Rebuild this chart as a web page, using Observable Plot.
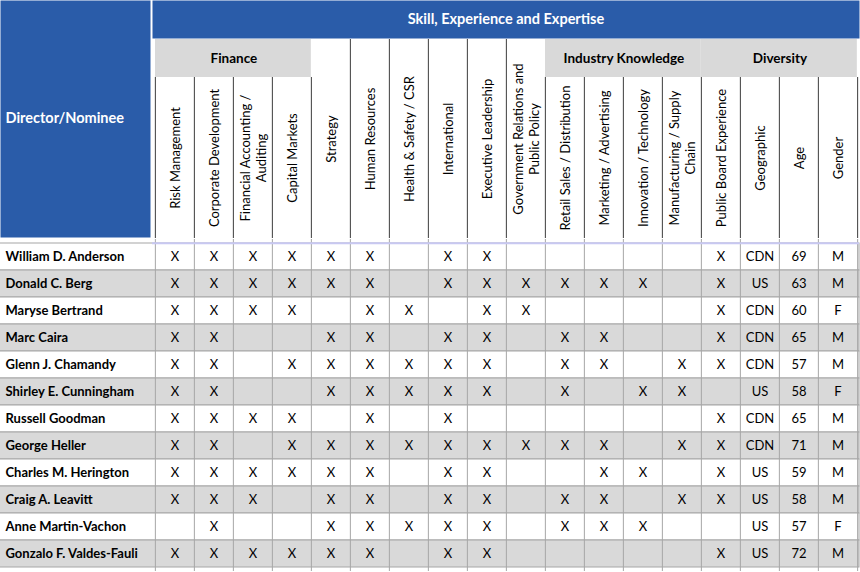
<!DOCTYPE html>
<html>
<head>
<meta charset="utf-8">
<script src="https://cdn.jsdelivr.net/npm/d3@7"></script>
<script src="https://cdn.jsdelivr.net/npm/@observablehq/plot@0.6"></script>
<style>
  html, body { margin: 0; padding: 0; background: #ffffff; }
  #chart svg { display: block; }
</style>
</head>
<body>
<div id="chart"></div>
<script>
// ---------------- DATA ----------------
const headerTitle = "Skill, Experience and Expertise";
const rowHeader = "Director/Nominee";

const directors = [
  "William D. Anderson", "Donald C. Berg", "Maryse Bertrand", "Marc Caira",
  "Glenn J. Chamandy", "Shirley E. Cunningham", "Russell Goodman", "George Heller",
  "Charles M. Herington", "Craig A. Leavitt", "Anne Martin-Vachon", "Gonzalo F. Valdes-Fauli"
];

const skills = [
  "Risk Management", "Corporate Development", "Financial Accounting / Auditing", "Capital Markets",
  "Strategy", "Human Resources", "Health & Safety / CSR", "International", "Executive Leadership",
  "Government Relations and Public Policy", "Retail Sales / Distribution", "Marketing / Advertising",
  "Innovation / Technology", "Manufacturing / Supply Chain", "Public Board Experience"
];

// tick labels as printed (with their line breaks)
const skillLabels = [
  "Risk Management", "Corporate Development", "Financial Accounting /\nAuditing", "Capital Markets",
  "Strategy", "Human Resources", "Health & Safety / CSR", "International", "Executive Leadership",
  "Government Relations and\nPublic Policy", "Retail Sales / Distribution", "Marketing / Advertising",
  "Innovation / Technology", "Manufacturing / Supply\nChain", "Public Board Experience"
];

const diversityColumns = ["Geographic", "Age", "Gender"];

const groupNames = ["Finance", "Industry Knowledge", "Diversity"];
const groupMembers = [
  ["Risk Management", "Corporate Development", "Financial Accounting / Auditing", "Capital Markets"],
  ["Retail Sales / Distribution", "Marketing / Advertising", "Innovation / Technology", "Manufacturing / Supply Chain"],
  ["Public Board Experience", "Geographic", "Age", "Gender"]
];

// 1 = "X" in the matrix, one row per director, one entry per skill (same order as skills)
const hasSkill = [
  [1,1,1,1,1,1,0,1,1,0,0,0,0,0,1], // William D. Anderson
  [1,1,1,1,1,1,0,1,1,1,1,1,1,0,1], // Donald C. Berg
  [1,1,1,1,0,1,1,0,1,1,0,0,0,0,1], // Maryse Bertrand
  [1,1,0,0,1,1,0,1,1,0,1,1,0,0,1], // Marc Caira
  [1,1,0,1,1,1,1,1,1,0,1,1,0,1,1], // Glenn J. Chamandy
  [1,1,0,0,1,1,1,1,1,0,1,0,1,1,0], // Shirley E. Cunningham
  [1,1,1,1,0,1,0,1,0,0,0,0,0,0,1], // Russell Goodman
  [1,1,0,1,1,1,1,1,1,1,1,1,0,1,1], // George Heller
  [1,1,1,1,1,1,0,1,1,0,0,1,1,0,1], // Charles M. Herington
  [1,1,1,0,1,1,0,1,1,0,1,1,0,1,1], // Craig A. Leavitt
  [0,1,0,0,1,1,1,1,1,0,1,1,1,0,0], // Anne Martin-Vachon
  [1,1,1,1,1,1,0,1,1,0,0,0,0,0,1]  // Gonzalo F. Valdes-Fauli
];

const geographic = ["CDN","US","CDN","CDN","CDN","US","CDN","CDN","US","US","US","US"];
const ages       = [69, 63, 60, 65, 57, 58, 65, 71, 59, 58, 57, 72];
const genders    = ["M","M","F","M","M","F","M","M","M","M","F","M"];

// ---------------- DERIVED TABLES ----------------
const columns = [...skills, ...diversityColumns];
const columnLabels = [...skillLabels, ...diversityColumns];
const labelOf = new Map(columns.map((c, i) => [c, columnLabels[i]]));
const groupOf = new Map();
groupMembers.forEach((cols, g) => cols.forEach(c => groupOf.set(c, groupNames[g])));
const isGrouped = c => groupOf.has(c);

const skillCells = directors.flatMap((name, i) =>
  skills.filter((s, j) => hasSkill[i][j] === 1).map(col => ({name, col, value: "X"})));
const diversityCells = directors.flatMap((name, i) => [
  {name, col: "Geographic", value: geographic[i]},
  {name, col: "Age", value: String(ages[i])},
  {name, col: "Gender", value: genders[i]}
]);

// ---------------- LAYOUT / STYLE ----------------
const W = 860, H = 572;
const mL = 152, mR = 1, mT = 239, mB = 1;
const bw = (W - mL - mR) / columns.length;   // band width of one column
const bh = (H - mT - mB) / directors.length; // band height of one row

// header structure (distance from the top of the svg)
const titleBottom = 38, groupTop = 39, groupBottom = 77, headerBottom = 238;
const nameColRight = 150;

const BLUE = "#2a5ca9";
const BAND_GRAY = "#d9d9d9";
const ROW_GRAY = "#d9d9d9";
const GRID = "#a6a6a6";
const HEAD_LINE = "#3c3c3c";
const LAVENDER = "#c8c8f2";
const FONT = "Lato, 'Open Sans', sans-serif";

// insets that place a frame-spanning rect/rule on a header region
const ySpan = (y0, y1) => ({insetTop: y0 - mT, insetBottom: (H - mB) - y1});
const xSpan = (x0, x1) => ({insetLeft: x0 - mL, insetRight: (W - mR) - x1});

// boundaries of header cells: top depends on neighbours being in a group
const boundaries = columns.map((c, j) => ({
  col: c,
  tall: !isGrouped(c) && (j === 0 || !isGrouped(columns[j - 1]))
}));

const groupMarks = groupNames.flatMap((g, k) => {
  const cols = groupMembers[k];
  return [
    Plot.cell([cols[0]], {
      x: d => d, fill: BAND_GRAY, insetLeft: 0, insetRight: -(cols.length - 1) * bw + 1,
      ...ySpan(groupTop, groupBottom)
    }),
    Plot.text([g], {
      x: () => cols[0], text: d => d, frameAnchor: "top", lineAnchor: "middle",
      dx: (cols.length - 1) * bw / 2, dy: (groupTop + groupBottom) / 2 - mT,
      fontWeight: "bold", fontSize: 13.5, fill: "#000"
    })
  ];
});

const chart = Plot.plot({
  width: W,
  height: H,
  marginLeft: mL,
  marginRight: mR,
  marginTop: mT,
  marginBottom: mB,
  x: {type: "band", domain: columns, padding: 0, axis: null},
  y: {type: "band", domain: directors, padding: 0, axis: null},
  color: {type: "identity"},
  style: {fontFamily: FONT, fontSize: "13px", color: "#000", background: "#ffffff", overflow: "visible"},
  marks: [
    // ---- body: striped rows (extending under the name column)
    Plot.cell(directors, {
      y: d => d, fill: (d, i) => (i % 2 ? ROW_GRAY : "#ffffff"), stroke: GRID,
      insetLeft: -(mL + 1)
    }),
    // ---- body: column separators
    Plot.ruleX(columns, {x: d => d, dx: -bw / 2, stroke: GRID}),
    Plot.ruleX([columns[columns.length - 1]], {x: d => d, dx: bw / 2, stroke: GRID}),
    Plot.ruleY([directors[0]], {y: d => d, dy: -bh / 2, stroke: LAVENDER, strokeWidth: 2}),
    // ---- body: values
    Plot.text(skillCells, {x: "col", y: "name", text: "value", fontSize: 13}),
    Plot.text(diversityCells, {x: "col", y: "name", text: "value", fontSize: 13}),
    Plot.text(directors, {
      y: d => d, text: d => d, frameAnchor: "left", dx: 5 - mL, textAnchor: "start",
      fontWeight: "bold", fontSize: 13
    }),

    // ---- header: row header block
    Plot.frame({fill: BLUE, stroke: "none", ...xSpan(0, nameColRight), ...ySpan(0, headerBottom - 1)}),
    Plot.text([rowHeader], {
      text: d => d, frameAnchor: "top-left", lineAnchor: "middle", dx: 5 - mL, dy: 118 - mT,
      textAnchor: "start", fill: "#ffffff", fontWeight: "bold", fontSize: 14.5
    }),
    // ---- header: title band
    Plot.frame({fill: BLUE, stroke: "none", ...ySpan(0, titleBottom)}),
    Plot.text([headerTitle], {
      text: d => d, frameAnchor: "top", lineAnchor: "middle", dy: titleBottom / 2 - mT,
      fill: "#ffffff", fontWeight: "bold", fontSize: 14.5
    }),
    // ---- header: cell borders
    Plot.ruleX(boundaries.filter(b => b.tall), {x: "col", dx: -bw / 2, stroke: HEAD_LINE, ...ySpan(groupTop, headerBottom)}),
    Plot.ruleX(boundaries.filter(b => !b.tall), {x: "col", dx: -bw / 2, stroke: HEAD_LINE, ...ySpan(groupBottom, headerBottom)}),
    Plot.ruleX([columns[columns.length - 1]], {x: d => d, dx: bw / 2, stroke: HEAD_LINE, ...ySpan(groupBottom, headerBottom)}),
    // ---- header: group bands
    ...groupMarks,
    // ---- header: rotated column labels
    Plot.text(columns.filter(isGrouped), {
      x: d => d, text: d => labelOf.get(d), rotate: -90, frameAnchor: "top", lineAnchor: "middle",
      dy: (groupBottom + headerBottom) / 2 - mT, lineHeight: 1.2, fontSize: 13
    }),
    Plot.text(columns.filter(c => !isGrouped(c)), {
      x: d => d, text: d => labelOf.get(d), rotate: -90, frameAnchor: "top", lineAnchor: "middle",
      dy: (groupTop + headerBottom) / 2 - mT, lineHeight: 1.2, fontSize: 13
    })
  ]
});

document.getElementById("chart").appendChild(chart);
</script>
</body>
</html>
